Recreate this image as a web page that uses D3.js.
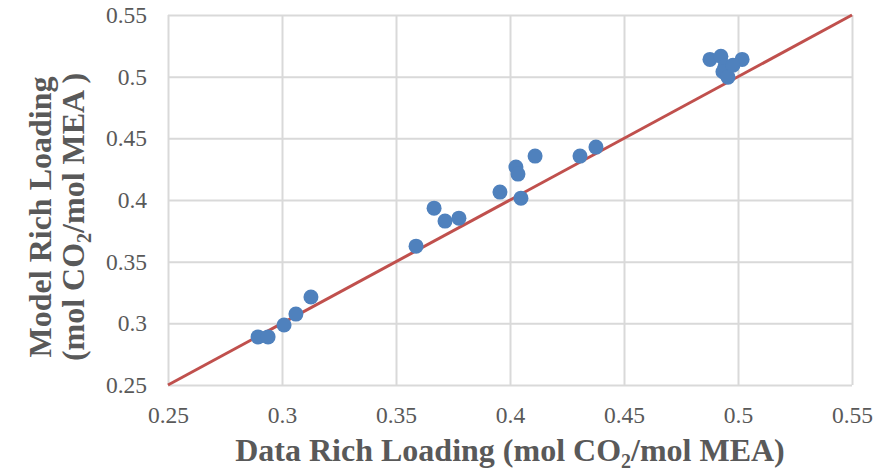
<!DOCTYPE html>
<html>
<head>
<meta charset="utf-8">
<script src="https://cdn.jsdelivr.net/npm/d3@7"></script>
<style>
  body { margin: 0; background: #fff; }
  svg { display: block; font-family: "Liberation Serif", "Times New Roman", serif; }
</style>
</head>
<body>
<svg id="chart" width="889" height="473"></svg>
<script>
// measured vs model rich loading
const dataLoading = [0.2895, 0.2939, 0.3009, 0.3061, 0.3127, 0.3588, 0.3667, 0.3715, 0.3776,
  0.3956, 0.4026, 0.4035, 0.4048, 0.411, 0.4307, 0.4377,
  0.4877, 0.4925, 0.5018, 0.4943, 0.4934, 0.4956, 0.4978];
const modelLoading = [0.289, 0.289, 0.2986, 0.3075, 0.3213, 0.3626, 0.3934, 0.3829, 0.3853,
  0.4064, 0.4267, 0.421, 0.4015, 0.4356, 0.4356, 0.4429,
  0.514, 0.5166, 0.514, 0.5085, 0.504, 0.4996, 0.5093];
const parityLine = [0.25, 0.55];
const tickValues = [0.25, 0.3, 0.35, 0.4, 0.45, 0.5, 0.55];

const svg = d3.select("#chart");
const margin = {top: 15, right: 37, bottom: 88, left: 168};
const width = 889 - margin.left - margin.right;
const height = 473 - margin.top - margin.bottom;

const x = d3.scaleLinear().domain([0.25, 0.55]).range([0, width]);
const y = d3.scaleLinear().domain([0.25, 0.55]).range([height, 0]);

const g = svg.append("g").attr("transform", `translate(${margin.left},${margin.top})`);

// gridlines
g.append("g")
  .attr("transform", `translate(0,${height})`)
  .call(d3.axisBottom(x).tickValues(tickValues).tickSize(-height).tickFormat(""))
  .call(a => a.select(".domain").remove())
  .selectAll("line").attr("stroke", "#d9d9d9").attr("stroke-width", 2);

g.append("g")
  .call(d3.axisLeft(y).tickValues(tickValues).tickSize(-width).tickFormat(""))
  .call(a => a.select(".domain").remove())
  .selectAll("line").attr("stroke", "#d9d9d9").attr("stroke-width", 2);

// tick labels
const fmt = d => String(d);
g.append("g")
  .attr("transform", `translate(0,${height})`)
  .call(d3.axisBottom(x).tickValues(tickValues).tickSize(0).tickPadding(21).tickFormat(fmt))
  .call(a => a.select(".domain").remove())
  .selectAll("text")
  .attr("fill", "#595959")
  .style("font-size", "23.5px")
  .style("font-family", "Liberation Serif");

g.append("g")
  .call(d3.axisLeft(y).tickValues(tickValues).tickSize(0).tickPadding(21).tickFormat(fmt))
  .call(a => a.select(".domain").remove())
  .selectAll("text")
  .attr("fill", "#595959")
  .style("font-size", "23.5px")
  .style("font-family", "Liberation Serif");

// parity line
g.append("line")
  .attr("x1", x(parityLine[0])).attr("y1", y(parityLine[0]))
  .attr("x2", x(parityLine[1])).attr("y2", y(parityLine[1]))
  .attr("stroke", "#c0504d")
  .attr("stroke-width", 3);

// points
g.selectAll("circle")
  .data(dataLoading.map((d, i) => [d, modelLoading[i]]))
  .enter().append("circle")
  .attr("cx", d => x(d[0]))
  .attr("cy", d => y(d[1]))
  .attr("r", 7.5)
  .attr("fill", "#4f81bd");

// axis titles
const xt = svg.append("text")
  .attr("x", 510).attr("y", 461)
  .attr("text-anchor", "middle")
  .attr("fill", "#595959")
  .style("font-size", "32px")
  .style("font-weight", "bold");
xt.append("tspan").text("Data Rich Loading (mol CO");
xt.append("tspan").attr("dy", 7).style("font-size", "20px").text("2");
xt.append("tspan").attr("dy", -7).text("/mol MEA)");

const yt = svg.append("g").attr("transform", "translate(0,217) rotate(-90)");
yt.append("text")
  .attr("x", 0).attr("y", 51)
  .attr("text-anchor", "middle")
  .attr("fill", "#595959")
  .style("font-size", "32px")
  .style("font-weight", "bold")
  .text("Model Rich Loading");
const yt2 = yt.append("text")
  .attr("x", 0).attr("y", 84)
  .attr("text-anchor", "middle")
  .attr("fill", "#595959")
  .style("font-size", "32px")
  .style("font-weight", "bold");
yt2.append("tspan").text("(mol CO");
yt2.append("tspan").attr("dy", 7).style("font-size", "20px").text("2");
yt2.append("tspan").attr("dy", -7).text("/mol MEA )");
</script>
</body>
</html>
